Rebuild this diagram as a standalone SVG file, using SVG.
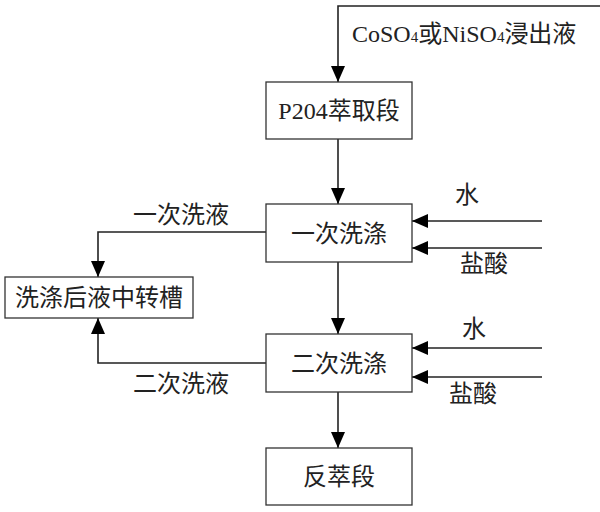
<svg xmlns="http://www.w3.org/2000/svg" width="600" height="512" viewBox="0 0 600 512">
<defs>
<marker id="arr" viewBox="0 0 16 14" refX="16" refY="7" markerWidth="16" markerHeight="14" markerUnits="userSpaceOnUse" orient="auto">
<path d="M0,0 L16,7 L0,14 Z" fill="#000"/>
</marker>
</defs>
<style>
.box{fill:#fff;stroke:#333;stroke-width:1.3}
.t{font-family:"Liberation Serif","Noto Sans CJK SC",serif;font-size:24px;fill:#222}
.c{text-anchor:middle}
.ln{fill:none;stroke:#222;stroke-width:1.6}
</style>
<rect width="600" height="512" fill="#fff"/>
<g id="connectors">
<path class="ln" d="M600,6 H338 V82" marker-end="url(#arr)"/>
<path class="ln" d="M338,139 V204" marker-end="url(#arr)"/>
<path class="ln" d="M338,262 V334" marker-end="url(#arr)"/>
<path class="ln" d="M338,392 V448" marker-end="url(#arr)"/>
<path class="ln" d="M542,221 H412" marker-end="url(#arr)"/>
<path class="ln" d="M542,248 H412" marker-end="url(#arr)"/>
<path class="ln" d="M542,348 H412" marker-end="url(#arr)"/>
<path class="ln" d="M542,377 H412" marker-end="url(#arr)"/>
<path class="ln" d="M266,232 H98 V277" marker-end="url(#arr)"/>
<path class="ln" d="M266,363 H98 V318" marker-end="url(#arr)"/>
<text class="t" x="352" y="42">CoSO<tspan font-size="15">4</tspan>或NiSO<tspan font-size="15">4</tspan>浸出液</text>
<text class="t" x="455" y="203">水</text>
<text class="t" x="460" y="272">盐酸</text>
<text class="t" x="462" y="337">水</text>
<text class="t" x="449" y="402">盐酸</text>
<text class="t" x="133" y="223">一次洗液</text>
<text class="t" x="133" y="392">二次洗液</text>
</g>
<g id="p204">
<rect class="box" x="266" y="82" width="146" height="57"/>
<text class="t c" x="339" y="119">P204萃取段</text>
</g>
<g id="wash1">
<rect class="box" x="266" y="204" width="146" height="58"/>
<text class="t c" x="339" y="242">一次洗涤</text>
</g>
<g id="wash2">
<rect class="box" x="266" y="334" width="146" height="58"/>
<text class="t c" x="339" y="372">二次洗涤</text>
</g>
<g id="strip">
<rect class="box" x="266" y="448" width="146" height="57"/>
<text class="t c" x="339" y="485">反萃段</text>
</g>
<g id="tank">
<rect class="box" x="5" y="277" width="188" height="41"/>
<text class="t c" x="99" y="306">洗涤后液中转槽</text>
</g>
</svg>
